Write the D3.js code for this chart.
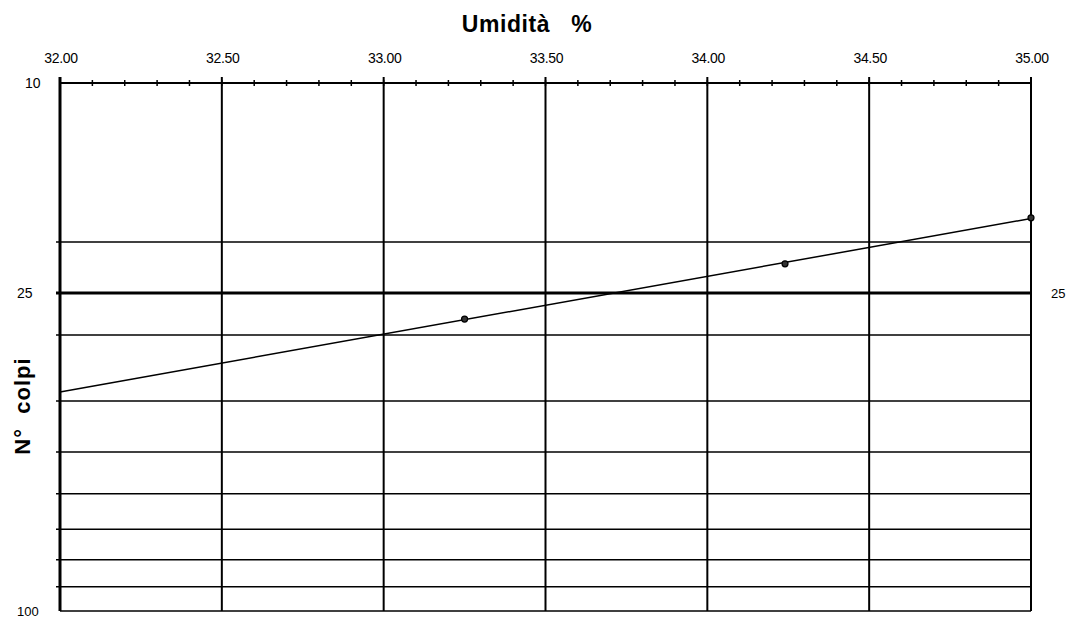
<!DOCTYPE html>
<html><head><meta charset="utf-8">
<script src="https://cdn.jsdelivr.net/npm/d3@7"></script>
<style>body{margin:0;background:#fff}svg{display:block}text{font-family:Arial,"Liberation Sans",sans-serif;fill:#000}</style>
</head><body><svg id="c" width="1066" height="619"></svg>
<script>
const moisture = [33.25, 34.24, 35.00];
const blows = [28, 22, 18];
const xTicks = [32.0, 32.5, 33.0, 33.5, 34.0, 34.5, 35.0];
const yGrid = [20, 25, 30, 40, 50, 60, 70, 80, 90];
const yLabels = [10, 25, 100];

const svg = d3.select("#c");
const L = 60, R = 1031, T = 83, B = 611;
const x = d3.scaleLinear().domain([32, 35]).range([L, R]);
const y = d3.scaleLog().domain([10, 100]).range([T, B]);

// horizontal grid
svg.selectAll("line.hg").data(yGrid).enter().append("line")
  .attr("x1", d => L - 4).attr("x2", R)
  .attr("y1", d => y(d)).attr("y2", d => y(d))
  .attr("stroke", "#000").attr("stroke-width", d => d === 25 ? 3 : 1.5);
// bottom border
svg.append("line").attr("x1", L).attr("x2", R).attr("y1", B).attr("y2", B).attr("stroke", "#000").attr("stroke-width", 1.5);

// vertical grid
svg.selectAll("line.vg").data(xTicks.slice(1)).enter().append("line")
  .attr("x1", d => x(d)).attr("x2", d => x(d))
  .attr("y1", T - 6).attr("y2", B)
  .attr("stroke", "#000").attr("stroke-width", 2);

// top axis with minor ticks
const minor = d3.range(0, 31).map(i => 32 + i * 0.1);
svg.append("line").attr("x1", L).attr("x2", R).attr("y1", T).attr("y2", T).attr("stroke", "#000").attr("stroke-width", 1.8);
svg.selectAll("line.mt").data(minor).enter().append("line")
  .attr("x1", d => x(d)).attr("x2", d => x(d))
  .attr("y1", T - 3).attr("y2", T + 3)
  .attr("stroke", "#000").attr("stroke-width", 1.5);

// left axis
svg.append("line").attr("x1", L).attr("x2", L).attr("y1", T - 6).attr("y2", B).attr("stroke", "#000").attr("stroke-width", 3);

// x tick labels
svg.selectAll("text.xt").data(xTicks).enter().append("text")
  .attr("x", d => x(d) + 1).attr("y", 63).attr("text-anchor", "middle")
  .attr("font-size", 14).attr("letter-spacing", -0.3).text(d => d.toFixed(2));

// y labels
svg.selectAll("text.yl").data(yLabels).enter().append("text")
  .attr("x", d => d === 10 ? 25 : 17).attr("y", d => y(d) + 5).attr("text-anchor", "start")
  .attr("font-size", d => d === 100 ? 13 : 14).text(d => d);
svg.append("text").attr("x", 1051).attr("y", y(25) + 5).attr("text-anchor", "start")
  .attr("font-size", 13).text("25");

// titles
svg.append("text").attr("x", 527).attr("y", 32).attr("text-anchor", "middle")
  .attr("font-size", 23).attr("font-weight", "bold").attr("letter-spacing", 0.6)
  .attr("xml:space", "preserve").text("Umidità   %");
svg.append("text").attr("transform", "translate(30,406) rotate(-90)").attr("text-anchor", "middle")
  .attr("font-size", 22).attr("font-weight", "bold").attr("letter-spacing", 1)
  .attr("xml:space", "preserve").text("N°  colpi");

// regression of log10(N) vs moisture
const lx = moisture, ly = blows.map(Math.log10);
const mx = d3.mean(lx), my = d3.mean(ly);
const slope = d3.sum(lx.map((v, i) => (v - mx) * (ly[i] - my))) / d3.sum(lx.map(v => (v - mx) ** 2));
const fit = w => Math.pow(10, my + slope * (w - mx));
const trend = [32, 35].map(w => [w, fit(w)]);
svg.append("path").datum(trend)
  .attr("d", d3.line().x(d => x(d[0])).y(d => y(d[1])))
  .attr("fill", "none").attr("stroke", "#000").attr("stroke-width", 1.5);

// points
svg.selectAll("circle.p").data(moisture).enter().append("circle")
  .attr("cx", d => x(d)).attr("cy", (d, i) => y(blows[i])).attr("r", 3)
  .attr("fill", "#333").attr("stroke", "#000").attr("stroke-width", 1.2);
</script></body></html>
